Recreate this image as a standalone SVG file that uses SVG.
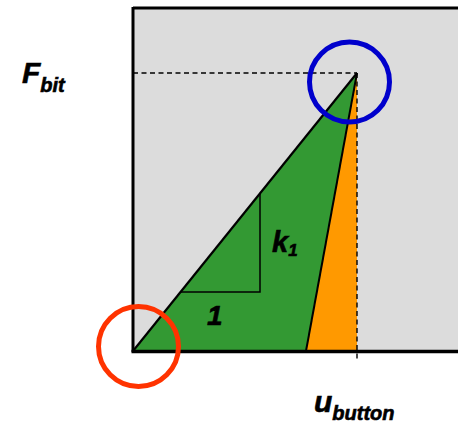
<svg xmlns="http://www.w3.org/2000/svg" width="458" height="424" viewBox="0 0 458 424">
<style>
.lbl{font-family:"Liberation Sans",Arial,sans-serif;font-weight:bold;font-style:italic;fill:#000;stroke:#000;stroke-width:0.6}
.thin{stroke:#000;stroke-width:1.5;fill:none}
.dash{stroke:#000;stroke-width:1.4;stroke-dasharray:5,3.5;fill:none}
</style>
<rect x="0" y="0" width="458" height="424" fill="#fff"/>
<g id="plot">
<rect x="133" y="8" width="330" height="343" fill="#dcdcdc"/>
<polygon points="133,351 357,73 306,351" fill="#339933"/>
<polygon points="306,351 357,73 357,351" fill="#ff9900"/>
<line x1="133" y1="8" x2="458" y2="8" stroke="#000" stroke-width="3"/>
<line x1="133" y1="7" x2="133" y2="352" stroke="#000" stroke-width="3"/>
<line x1="131.5" y1="351.5" x2="458" y2="351.5" stroke="#000" stroke-width="3.5"/>
</g>
<g id="connectors">
<line class="dash" x1="133" y1="73" x2="357" y2="73"/>
<line class="dash" x1="357" y1="73" x2="357" y2="362"/>
<line x1="133" y1="351" x2="357" y2="73" stroke="#000" stroke-width="2.2"/>
<line x1="306" y1="351" x2="357" y2="73" stroke="#000" stroke-width="2"/>
<polyline class="thin" points="181,292 260,292 260,194"/>
</g>
<g id="circle-top">
<circle cx="349.5" cy="82" r="40" fill="none" stroke="#0000cc" stroke-width="5"/>
</g>
<g id="circle-origin">
<circle cx="138.5" cy="346.5" r="40" fill="none" stroke="#ff3300" stroke-width="5"/>
</g>
<g id="label-fbit">
<text class="lbl" x="22" y="83" font-size="30">F<tspan font-size="20" dy="9">bit</tspan></text>
</g>
<g id="label-k1">
<text class="lbl" x="272" y="252" font-size="29">k<tspan font-size="17" dy="4">1</tspan></text>
</g>
<g id="label-1">
<text class="lbl" x="207" y="325" font-size="28">1</text>
</g>
<g id="label-ubutton">
<text class="lbl" x="314" y="412" font-size="30">u<tspan font-size="20" dy="8">button</tspan></text>
</g>
</svg>
